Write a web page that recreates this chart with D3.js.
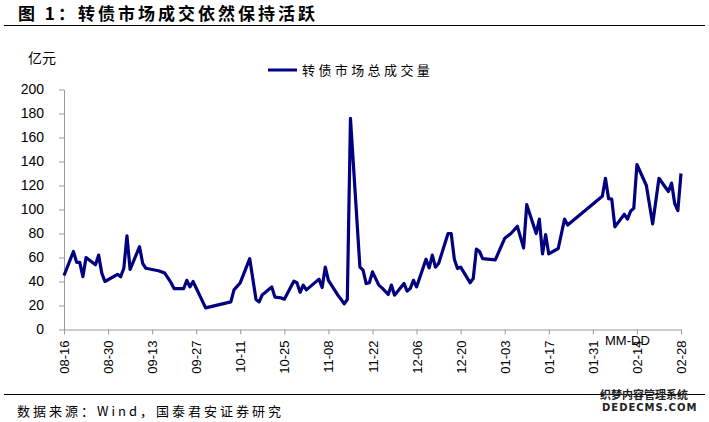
<!DOCTYPE html>
<html><head><meta charset="utf-8">
<script src="https://cdn.jsdelivr.net/npm/d3@7"></script>
<style>
html,body{margin:0;padding:0;background:#fff;}
svg{display:block;}
</style></head>
<body><svg id="c" width="709" height="422"></svg>
<script>
const dates = ["2018-08-16","2018-08-19","2018-08-20","2018-08-21","2018-08-22","2018-08-23","2018-08-26","2018-08-27","2018-08-28","2018-08-29",
"2018-09-02","2018-09-03","2018-09-04","2018-09-05","2018-09-06","2018-09-09","2018-09-10","2018-09-11","2018-09-15","2018-09-17",
"2018-09-19","2018-09-20","2018-09-23","2018-09-24","2018-09-25","2018-09-26","2018-09-30","2018-10-08","2018-10-09","2018-10-11",
"2018-10-14","2018-10-16","2018-10-17","2018-10-18","2018-10-19","2018-10-21","2018-10-22","2018-10-24","2018-10-25","2018-10-28",
"2018-10-29","2018-10-30","2018-10-31","2018-11-01","2018-11-05","2018-11-06","2018-11-07","2018-11-08","2018-11-11","2018-11-12",
"2018-11-13","2018-11-14","2018-11-15","2018-11-18","2018-11-19","2018-11-20","2018-11-21","2018-11-22","2018-11-24","2018-11-25",
"2018-11-27","2018-11-28","2018-11-29","2018-12-02","2018-12-03","2018-12-04","2018-12-05","2018-12-06","2018-12-09","2018-12-10",
"2018-12-11","2018-12-12","2018-12-13","2018-12-16","2018-12-17","2018-12-18","2018-12-19","2018-12-20","2018-12-23","2018-12-24",
"2018-12-25","2018-12-26","2018-12-27","2018-12-31","2019-01-03","2019-01-05","2019-01-07","2019-01-09","2019-01-10","2019-01-13",
"2019-01-14","2019-01-15","2019-01-16","2019-01-17","2019-01-20","2019-01-22","2019-01-23","2019-02-03","2019-02-04","2019-02-05",
"2019-02-06","2019-02-07","2019-02-10","2019-02-11","2019-02-12","2019-02-13","2019-02-14","2019-02-17","2019-02-19","2019-02-21",
"2019-02-24","2019-02-25","2019-02-26","2019-02-27","2019-02-28"];
const volume = [45,65,56,56,44,60,54,62,47,40,
46,44,51,78,50,69,55,51,49,47,
39,34,34,41,35.5,40,18,23,33,39,
59,25,23,29,31,35.5,27,26.3,25.3,40.3,
39,31,37,33,42,35,52,41,28.6,25.3,
21.4,25,176,52,49.4,38.3,39,48,37,34.7,
29.2,37,28.6,38.3,32,34.2,41,35.5,58.6,51.3,
62,52,55,80,80,58.6,50.8,52,39,42.5,
67,65,59,58,76,80,86,68,104,80,
92,63,79,63,67.5,92,87,111,126,109,
108.6,85.5,96,92,98.6,101,137.5,120,88,126,
115,122,105,99,130];
const tickDates = ["2018-08-16","2018-08-30","2018-09-13","2018-09-27","2018-10-11","2018-10-25","2018-11-08","2018-11-22",
"2018-12-06","2018-12-20","2019-01-03","2019-01-17","2019-01-31","2019-02-14","2019-02-28"];
const yTicks = [0,20,40,60,80,100,120,140,160,180,200];
const seriesName = "转债市场总成交量";
const titleText = "图 1：转债市场成交依然保持活跃";
const sourceText = "数据来源：Wind，国泰君安证券研究";

const parse = d3.utcParse("%Y-%m-%d");
const fmt = d3.utcFormat("%m-%d");
const data = dates.map((d,i)=>({date:parse(d), v:volume[i]}));

const svg = d3.select("#c");
const x = d3.scaleUtc().domain([parse(tickDates[0]), parse(tickDates[tickDates.length-1])]).range([64, 681]);
const y = d3.scaleLinear().domain([0,200]).range([329.5, 89.5]);

// title and rules
svg.append("text").attr("x",18).attr("y",19.5).attr("font-family","Noto Sans CJK SC").attr("font-weight","bold")
  .attr("font-size",17).attr("letter-spacing","3px").attr("fill","#000").text(titleText);
svg.append("line").attr("x1",4).attr("x2",705).attr("y1",25.5).attr("y2",25.5).attr("stroke","#000").attr("stroke-width",1.2);
svg.append("line").attr("x1",4).attr("x2",705).attr("y1",394.5).attr("y2",394.5).attr("stroke","#000").attr("stroke-width",1.2);
svg.append("text").attr("x",17).attr("y",416).attr("font-family","Noto Sans CJK SC").attr("font-size",13)
  .attr("letter-spacing","3px").attr("fill","#000").text(sourceText);

// unit
svg.append("text").attr("x",28).attr("y",63).attr("font-family","Noto Sans CJK SC").attr("font-size",14).text("亿元");

// y axis
const yAxis = svg.append("g").attr("transform","translate(64,0)")
  .call(d3.axisLeft(y).tickValues(yTicks).tickSize(5).tickSizeOuter(0).tickPadding(15));
yAxis.select(".domain").attr("stroke","#999");
yAxis.selectAll(".tick line").attr("stroke","#999");
yAxis.selectAll("text").attr("font-family","Liberation Sans, Arial").attr("font-size",14).attr("fill","#000");

// x axis
const xAxis = svg.append("g").attr("transform","translate(0,329.5)")
  .call(d3.axisBottom(x).tickValues(tickDates.map(parse)).tickFormat(fmt).tickSize(5).tickSizeOuter(0));
xAxis.select(".domain").attr("stroke","#999");
xAxis.selectAll(".tick line").attr("stroke","#999");
xAxis.selectAll("text").attr("font-family","Liberation Sans, Arial").attr("font-size",13).attr("fill","#000")
  .attr("text-anchor","end").attr("transform","rotate(-90)").attr("x",-11).attr("y",0).attr("dy","0.35em");

svg.append("text").attr("x",605).attr("y",345).attr("font-family","Liberation Sans, Arial").attr("font-size",13).text("MM-DD");

// line
const line = d3.line().x(d=>x(d.date)).y(d=>y(d.v));
svg.append("path").datum(data).attr("d",line).attr("fill","none").attr("stroke","#000080")
  .attr("stroke-width",3.2).attr("stroke-linejoin","round");

// legend
svg.append("line").attr("x1",268).attr("x2",297).attr("y1",70).attr("y2",70).attr("stroke","#000080").attr("stroke-width",3);
svg.append("text").attr("x",302).attr("y",75).attr("font-family","Noto Sans CJK SC").attr("font-size",13)
  .attr("letter-spacing","3.4px").text(seriesName);

// watermark
svg.append("text").attr("x",600).attr("y",399).attr("font-family","Noto Sans CJK SC").attr("font-weight","bold")
  .attr("font-size",11).attr("fill","#222").text("织梦内容管理系统");
svg.append("text").attr("x",602).attr("y",411).attr("font-family","DejaVu Sans").attr("font-weight","bold")
  .attr("font-size",10).attr("fill","#222").attr("letter-spacing","1px").text("DEDECMS.COM");
</script></body></html>
